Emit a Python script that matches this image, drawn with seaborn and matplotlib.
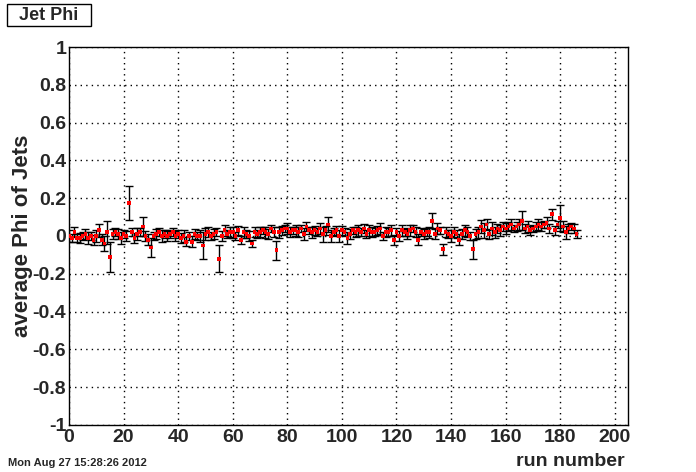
import numpy as np
import pandas as pd
import seaborn as sns
import matplotlib.pyplot as plt
from matplotlib.ticker import MultipleLocator
from matplotlib.patches import Rectangle

# average jet phi per run
phi_mean = [
    0.00, -0.01, 0.02, -0.01, -0.01, 0.00, 0.01, -0.01, 0.00, -0.02,
    0.00, 0.03, -0.02, -0.04, 0.02, -0.11, 0.01, 0.02, 0.01, -0.01,
    0.01, 0.00, 0.175, 0.02, -0.01, 0.01, 0.02, 0.05, 0.00, -0.02,
    -0.06, 0.00, 0.01, 0.02, 0.00, 0.01, 0.00, 0.01, 0.02, 0.00,
    0.01, -0.01, 0.00, -0.03, 0.00, -0.03, 0.01, 0.00, 0.00, -0.05,
    0.01, 0.02, 0.00, 0.01, 0.02, -0.12, 0.00, 0.03, 0.01, 0.02,
    0.02, 0.00, 0.03, -0.02, 0.02, 0.01, 0.00, -0.04, 0.02, 0.01,
    0.02, 0.03, 0.02, 0.01, 0.04, 0.02, -0.075, 0.02, 0.03, 0.04,
    0.04, 0.02, 0.03, 0.03, 0.02, 0.04, 0.01, 0.05, 0.03, 0.02,
    0.03, 0.02, 0.04, 0.01, 0.03, 0.06, 0.00, 0.02, 0.03, 0.00,
    0.03, 0.02, -0.01, 0.01, 0.03, 0.02, 0.03, 0.02, 0.04, 0.01,
    0.03, 0.02, 0.02, 0.03, 0.04, 0.00, 0.02, 0.02, 0.03, -0.02,
    0.02, 0.00, 0.03, 0.02, 0.01, 0.03, 0.04, 0.02, -0.02, 0.02,
    0.01, 0.02, 0.02, 0.08, 0.01, 0.04, 0.03, -0.07, 0.02, 0.01,
    0.00, 0.02, 0.01, -0.02, 0.01, 0.03, 0.02, 0.00, -0.07, 0.01,
    0.02, 0.05, 0.03, 0.06, 0.01, 0.04, 0.02, 0.04, 0.03, 0.05,
    0.04, 0.05, 0.06, 0.04, 0.05, 0.06, 0.08, 0.04, 0.05, 0.03,
    0.04, 0.05, 0.06, 0.05, 0.06, 0.07, 0.04, 0.115, 0.03, 0.06,
    0.095, 0.05, 0.02, 0.04, 0.05, 0.04, 0.01,
]
phi_err = [
    0.030, 0.020, 0.025, 0.020, 0.025, 0.020, 0.025, 0.030, 0.020, 0.025,
    0.030, 0.035, 0.030, 0.040, 0.060, 0.080, 0.025, 0.020, 0.025, 0.030,
    0.020, 0.025, 0.090, 0.020, 0.025, 0.030, 0.020, 0.050, 0.025, 0.030,
    0.050, 0.020, 0.025, 0.020, 0.030, 0.020, 0.025, 0.020, 0.020, 0.025,
    0.020, 0.025, 0.030, 0.025, 0.020, 0.030, 0.025, 0.020, 0.030, 0.070,
    0.030, 0.025, 0.020, 0.025, 0.020, 0.070, 0.025, 0.030, 0.020, 0.025,
    0.030, 0.020, 0.025, 0.020, 0.030, 0.020, 0.025, 0.020, 0.025, 0.020,
    0.025, 0.020, 0.030, 0.025, 0.020, 0.025, 0.050, 0.030, 0.025, 0.020,
    0.030, 0.025, 0.020, 0.030, 0.025, 0.020, 0.030, 0.025, 0.020, 0.030,
    0.025, 0.020, 0.030, 0.040, 0.025, 0.040, 0.030, 0.020, 0.025, 0.030,
    0.025, 0.020, 0.030, 0.025, 0.020, 0.025, 0.030, 0.020, 0.025, 0.020,
    0.030, 0.025, 0.020, 0.025, 0.030, 0.020, 0.025, 0.020, 0.030, 0.025,
    0.020, 0.025, 0.030, 0.020, 0.025, 0.030, 0.020, 0.025, 0.030, 0.020,
    0.025, 0.020, 0.030, 0.040, 0.025, 0.030, 0.020, 0.030, 0.025, 0.020,
    0.030, 0.025, 0.020, 0.030, 0.025, 0.030, 0.025, 0.020, 0.050, 0.025,
    0.030, 0.035, 0.040, 0.030, 0.025, 0.035, 0.030, 0.025, 0.030, 0.025,
    0.030, 0.025, 0.030, 0.020, 0.025, 0.030, 0.050, 0.025, 0.030, 0.025,
    0.020, 0.025, 0.030, 0.025, 0.020, 0.030, 0.025, 0.030, 0.025, 0.020,
    0.070, 0.030, 0.035, 0.025, 0.020, 0.025, 0.020,
]
run_number = list(range(len(phi_mean)))

df = pd.DataFrame({"run": run_number, "phi": phi_mean, "err": phi_err})

sns.set_style("white")
plt.rcParams["font.family"] = ["Liberation Sans", "DejaVu Sans"]
plt.rcParams["font.weight"] = "bold"

fig = plt.figure(figsize=(6.96, 4.72), dpi=100)
ax = fig.add_axes([0.0991, 0.0996, 0.8039, 0.8008])

ax.errorbar(df["run"], df["phi"], yerr=df["err"], fmt="none",
            ecolor="black", elinewidth=1, capsize=2.8, capthick=1, zorder=2)
sns.scatterplot(data=df, x="run", y="phi", marker="s", color="red",
                s=7, edgecolor="none", linewidth=0, ax=ax, zorder=3)

ax.set_xlim(0, 205)
ax.set_ylim(-1, 1)
ax.xaxis.set_major_locator(MultipleLocator(20))
ax.xaxis.set_minor_locator(MultipleLocator(4))
ax.yaxis.set_major_locator(MultipleLocator(0.2))
ax.yaxis.set_minor_locator(MultipleLocator(0.05))
ax.yaxis.set_major_formatter(lambda v, p: "0" if abs(v) < 1e-9 else f"{v:g}")

ax.tick_params(which="major", direction="in", length=12, width=1,
               labelsize=14, top=False, right=False)
ax.tick_params(axis="x", which="major", pad=3)
ax.tick_params(axis="y", which="major", length=16, pad=2)
ax.tick_params(which="minor", direction="in", length=6, width=1,
               top=False, right=False)
ax.tick_params(axis="y", which="minor", length=8)

ax.grid(True, which="major", color="black", linestyle=(0, (1, 3)), linewidth=1)
for s in ax.spines.values():
    s.set_color("black")
    s.set_linewidth(1)

ax.set_xlabel("")
ax.set_ylabel("average Phi of Jets", fontsize=16, fontweight="bold", labelpad=0)
fig.text(0.898, 0.004, "run number", ha="right", va="bottom",
         fontsize=14, fontweight="bold")
fig.text(0.011, 0.008, "Mon Aug 27 15:28:26 2012", ha="left", va="bottom",
         fontsize=8, fontweight="bold")

# title box in the upper-left corner
fig.patches.append(Rectangle((0.010, 0.945), 0.1207, 0.0466,
                             transform=fig.transFigure, facecolor="white",
                             edgecolor="black", linewidth=1))
fig.text(0.0704, 0.968, "Jet Phi", ha="center", va="center", fontsize=13,
         fontweight="bold")

fig.savefig("out.png", dpi=100)
